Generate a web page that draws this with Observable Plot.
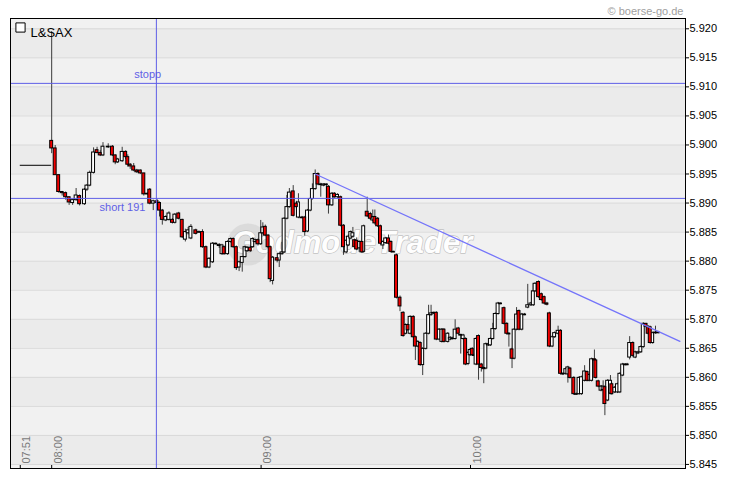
<!DOCTYPE html>
<html><head><meta charset="utf-8">
<script src="https://cdn.jsdelivr.net/npm/d3@7"></script>
<script src="https://cdn.jsdelivr.net/npm/@observablehq/plot@0.6"></script>
<style>
html,body{margin:0;padding:0;background:#fff;}
#chart{width:730px;height:481px;overflow:hidden;}
</style></head><body><div id="chart"></div>
<script>
// ---- data ----
const title = "L&SAX";
const copyright = "© boerse-go.de";
const watermark = "GodmodeTrader";
const xTickLabels = ["07:51", "08:00", "09:00", "10:00"];
const xTickMinutes = [-9, 0, 60, 120];            // minutes after 08:00
const yTicks = [5.845, 5.850, 5.855, 5.860, 5.865, 5.870, 5.875, 5.880, 5.885, 5.890, 5.895, 5.900, 5.905, 5.910, 5.915, 5.920];
const prevCloseMinutes = [-9, 0];
const prevClosePrice = [5.8965];
const levelNames = ["stopp", "short 191"];
const levelPrices = [5.9106, 5.8908];
const levelLabelMinutes = [27.5, 20.3];
const stopMinute = [30];
const trendMinutes = [75.5, 180];
const trendPrices = [5.8950, 5.8662];

const minutes = [0,1.0,2.0,3.0,4.0,5.0,6.0,7.0,8.0,9.4,
10.1,10.9,12.0,13.0,13.9,14.7,16.2,17.4,18.2,18.9,
20.2,21.2,21.8,22.5,23.5,24.4,25.4,26.4,27.4,28.1,
29.1,30.2,30.9,31.7,32.7,33.6,34.6,35.3,36.4,37.4,
38.3,39.1,39.9,41.3,42.2,43.2,44.2,45.1,46.1,47.0,
48.0,48.8,49.4,50.4,51.3,52.0,52.9,53.7,54.6,55.4,
56.0,56.9,57.6,58.3,59.1,59.9,60.5,61.2,62.0,62.6,
63.3,64.6,65.2,66.0,66.6,67.4,68.1,69.2,70.1,70.7,
71.7,72.5,73.3,74.1,74.7,75.5,76.3,77.1,77.9,78.7,
79.3,80.3,81.0,81.9,82.8,83.6,84.4,85.0,85.7,86.3,
86.8,87.4,88.1,88.9,89.4,90.4,91.3,92.0,92.6,93.4,
94.2,94.9,95.7,96.5,97.2,97.9,98.8,99.8,100.7,101.4,
102.1,102.7,103.6,104.2,104.9,105.6,106.3,107.2,108.0,108.7,
109.4,110.2,111.0,111.8,112.4,113.5,114.2,114.9,115.6,116.5,
117.2,117.9,118.6,119.3,119.9,120.5,121.1,121.6,122.3,123.1,
123.8,124.4,125.1,125.7,126.4,127.1,127.9,128.6,129.6,130.4,
131.0,131.9,132.5,133.2,133.9,134.7,135.5,136.4,137.3,138.0,
138.5,139.5,140.3,141.1,141.9,142.6,143.4,144.1,145.1,145.8,
146.5,147.3,147.9,148.5,149.6,150.3,151.1,151.8,152.7,153.4,
154.0,154.7,155.5,155.9,156.6,157.4,158.0,158.5,159.3,160.1,
160.5,161.3,162.1,162.8,163.6,164.3,164.9,165.6,166.5,167.2,
168.0,168.8,169.5,170.3,170.9,171.5,172.2,173.0,173.8];

const open = [5.9007,5.8994,5.8948,5.8919,5.8917,5.8910,5.8900,5.8905,5.8912,5.8898,
5.8923,5.8930,5.8952,5.8991,5.8986,5.8982,5.8996,5.8997,5.8982,5.8970,
5.8972,5.8988,5.8979,5.8966,5.8963,5.8956,5.8956,5.8951,5.8915,5.8923,
5.8899,5.8903,5.8900,5.8887,5.8870,5.8871,5.8871,5.8866,5.8882,5.8871,
5.8837,5.8848,5.8839,5.8853,5.8850,5.8850,5.8824,5.8789,5.8798,5.8830,
5.8826,5.8812,5.8824,5.8812,5.8833,5.8838,5.8824,5.8789,5.8797,5.8807,
5.8817,5.8823,5.8824,5.8833,5.8836,5.8829,5.8848,5.8859,5.8844,5.8824,
5.8766,5.8805,5.8801,5.8812,5.8815,5.8873,5.8893,5.8920,5.8899,5.8875,
5.8875,5.8875,5.8851,5.8887,5.8907,5.8924,5.8950,5.8932,5.8930,5.8932,
5.8928,5.8896,5.8916,5.8910,5.8910,5.8861,5.8815,5.8827,5.8839,5.8842,
5.8836,5.8835,5.8822,5.8833,5.8816,5.8885,5.8881,5.8870,5.8876,5.8873,
5.8860,5.8827,5.8831,5.8839,5.8833,5.8816,5.8810,5.8737,5.8711,5.8675,
5.8690,5.8675,5.8704,5.8669,5.8653,5.8659,5.8621,5.8649,5.8675,5.8707,
5.8710,5.8711,5.8665,5.8661,5.8682,5.8661,5.8665,5.8666,5.8666,5.8684,
5.8673,5.8666,5.8666,5.8623,5.8638,5.8649,5.8638,5.8622,5.8671,5.8622,
5.8616,5.8615,5.8655,5.8655,5.8666,5.8683,5.8709,5.8727,5.8719,5.8692,
5.8675,5.8648,5.8632,5.8682,5.8714,5.8682,5.8708,5.8720,5.8724,5.8724,
5.8748,5.8764,5.8743,5.8738,5.8727,5.8710,5.8653,5.8669,5.8675,5.8680,
5.8606,5.8606,5.8605,5.8615,5.8599,5.8571,5.8571,5.8571,5.8594,5.8609,
5.8594,5.8594,5.8631,5.8629,5.8593,5.8577,5.8578,5.8583,5.8560,5.8572,
5.8588,5.8574,5.8574,5.8574,5.8603,5.8622,5.8621,5.8634,5.8659,5.8634,
5.8641,5.8643,5.8652,5.8692,5.8687,5.8686,5.8659,5.8676,5.8677];

const high = [5.9195,5.8999,5.8948,5.8920,5.8919,5.8910,5.8906,5.8925,5.8914,5.8925,
5.8932,5.8955,5.8995,5.8996,5.8990,5.9004,5.9002,5.8999,5.8983,5.8977,
5.8996,5.8990,5.8983,5.8968,5.8968,5.8958,5.8957,5.8951,5.8917,5.8925,
5.8905,5.8906,5.8902,5.8889,5.8878,5.8885,5.8873,5.8882,5.8884,5.8872,
5.8855,5.8858,5.8863,5.8855,5.8852,5.8854,5.8826,5.8806,5.8832,5.8831,
5.8830,5.8829,5.8826,5.8835,5.8840,5.8840,5.8826,5.8800,5.8808,5.8826,
5.8825,5.8826,5.8840,5.8838,5.8838,5.8870,5.8866,5.8862,5.8846,5.8826,
5.8808,5.8806,5.8814,5.8832,5.8875,5.8913,5.8925,5.8930,5.8903,5.8916,
5.8877,5.8877,5.8889,5.8909,5.8933,5.8957,5.8952,5.8934,5.8933,5.8933,
5.8930,5.8918,5.8918,5.8916,5.8912,5.8863,5.8837,5.8845,5.8852,5.8858,
5.8838,5.8840,5.8835,5.8835,5.8862,5.8910,5.8884,5.8888,5.8888,5.8875,
5.8862,5.8835,5.8841,5.8845,5.8835,5.8817,5.8812,5.8740,5.8713,5.8692,
5.8692,5.8706,5.8706,5.8671,5.8663,5.8661,5.8651,5.8677,5.8724,5.8724,
5.8712,5.8713,5.8684,5.8684,5.8684,5.8677,5.8670,5.8669,5.8699,5.8686,
5.8674,5.8674,5.8668,5.8644,5.8649,5.8651,5.8640,5.8668,5.8673,5.8624,
5.8618,5.8659,5.8659,5.8668,5.8693,5.8711,5.8729,5.8728,5.8721,5.8694,
5.8677,5.8650,5.8684,5.8720,5.8716,5.8710,5.8710,5.8760,5.8729,5.8760,
5.8763,5.8766,5.8745,5.8740,5.8729,5.8712,5.8671,5.8678,5.8688,5.8682,
5.8608,5.8616,5.8619,5.8617,5.8601,5.8573,5.8601,5.8602,5.8620,5.8611,
5.8606,5.8633,5.8647,5.8631,5.8595,5.8586,5.8594,5.8585,5.8596,5.8603,
5.8590,5.8584,5.8590,5.8608,5.8624,5.8623,5.8624,5.8670,5.8661,5.8645,
5.8645,5.8654,5.8694,5.8693,5.8689,5.8688,5.8678,5.8688,5.8679];

const low = [5.8985,5.8948,5.8917,5.8912,5.8905,5.8896,5.8896,5.8903,5.8895,5.8896,
5.8920,5.8928,5.8950,5.8985,5.8980,5.8980,5.8994,5.8980,5.8966,5.8968,
5.8970,5.8975,5.8962,5.8958,5.8954,5.8951,5.8949,5.8912,5.8914,5.8897,
5.8887,5.8896,5.8876,5.8862,5.8868,5.8869,5.8864,5.8864,5.8871,5.8839,
5.8833,5.8845,5.8837,5.8845,5.8848,5.8822,5.8787,5.8787,5.8796,5.8828,
5.8822,5.8810,5.8810,5.8810,5.8831,5.8822,5.8784,5.8782,5.8781,5.8805,
5.8815,5.8815,5.8822,5.8831,5.8826,5.8827,5.8846,5.8842,5.8822,5.8763,
5.8759,5.8797,5.8789,5.8810,5.8813,5.8871,5.8891,5.8876,5.8890,5.8873,
5.8873,5.8843,5.8849,5.8885,5.8905,5.8922,5.8930,5.8910,5.8928,5.8905,
5.8881,5.8894,5.8908,5.8908,5.8859,5.8810,5.8813,5.8825,5.8837,5.8840,
5.8820,5.8818,5.8815,5.8813,5.8814,5.8875,5.8870,5.8868,5.8862,5.8858,
5.8828,5.8820,5.8829,5.8828,5.8814,5.8815,5.8735,5.8713,5.8669,5.8673,
5.8679,5.8673,5.8667,5.8629,5.8651,5.8619,5.8603,5.8647,5.8673,5.8705,
5.8708,5.8663,5.8663,5.8659,5.8659,5.8659,5.8663,5.8664,5.8664,5.8673,
5.8640,5.8664,5.8620,5.8620,5.8636,5.8636,5.8636,5.8620,5.8595,5.8609,
5.8589,5.8613,5.8653,5.8653,5.8664,5.8681,5.8707,5.8725,5.8690,5.8673,
5.8652,5.8615,5.8630,5.8680,5.8680,5.8680,5.8706,5.8718,5.8722,5.8722,
5.8746,5.8736,5.8731,5.8725,5.8723,5.8651,5.8651,5.8667,5.8673,5.8604,
5.8603,5.8604,5.8590,5.8597,5.8569,5.8569,5.8569,5.8569,5.8592,5.8592,
5.8592,5.8592,5.8627,5.8597,5.8582,5.8575,5.8576,5.8534,5.8558,5.8570,
5.8569,5.8572,5.8572,5.8572,5.8601,5.8620,5.8620,5.8630,5.8635,5.8632,
5.8639,5.8641,5.8650,5.8685,5.8673,5.8657,5.8657,5.8674,5.8675];

const close = [5.8994,5.8948,5.8919,5.8917,5.8910,5.8901,5.8905,5.8913,5.8898,5.8923,
5.8930,5.8952,5.8987,5.8986,5.8982,5.8997,5.8997,5.8982,5.8970,5.8975,
5.8988,5.8979,5.8966,5.8963,5.8956,5.8953,5.8951,5.8915,5.8916,5.8899,
5.8903,5.8900,5.8887,5.8871,5.8876,5.8882,5.8866,5.8880,5.8873,5.8841,
5.8850,5.8853,5.8859,5.8847,5.8850,5.8824,5.8789,5.8804,5.8830,5.8830,
5.8828,5.8827,5.8812,5.8833,5.8838,5.8824,5.8788,5.8798,5.8807,5.8824,
5.8823,5.8817,5.8838,5.8836,5.8829,5.8848,5.8858,5.8844,5.8824,5.8769,
5.8806,5.8801,5.8812,5.8815,5.8873,5.8893,5.8918,5.8878,5.8893,5.8901,
5.8875,5.8850,5.8887,5.8907,5.8924,5.8950,5.8932,5.8932,5.8932,5.8932,
5.8896,5.8916,5.8910,5.8914,5.8861,5.8824,5.8835,5.8842,5.8850,5.8848,
5.8824,5.8820,5.8833,5.8815,5.8860,5.8877,5.8873,5.8876,5.8865,5.8860,
5.8830,5.8833,5.8839,5.8830,5.8816,5.8816,5.8737,5.8722,5.8671,5.8690,
5.8681,5.8704,5.8669,5.8653,5.8661,5.8621,5.8649,5.8675,5.8707,5.8710,
5.8711,5.8665,5.8682,5.8682,5.8661,5.8675,5.8668,5.8667,5.8682,5.8675,
5.8672,5.8672,5.8622,5.8642,5.8647,5.8638,5.8638,5.8666,5.8622,5.8616,
5.8614,5.8657,5.8657,5.8666,5.8683,5.8709,5.8727,5.8727,5.8692,5.8675,
5.8675,5.8632,5.8682,5.8708,5.8682,5.8708,5.8708,5.8724,5.8727,5.8748,
5.8761,5.8738,5.8733,5.8727,5.8725,5.8653,5.8669,5.8676,5.8680,5.8606,
5.8605,5.8614,5.8617,5.8599,5.8571,5.8571,5.8599,5.8600,5.8610,5.8594,
5.8604,5.8631,5.8629,5.8599,5.8584,5.8584,5.8584,5.8554,5.8594,5.8594,
5.8571,5.8582,5.8588,5.8606,5.8622,5.8621,5.8622,5.8659,5.8637,5.8643,
5.8643,5.8652,5.8692,5.8687,5.8675,5.8659,5.8676,5.8677,5.8677];

// ---- build ----
const xDomain = [-11.8, 181.6];
const yDomain = [5.8443, 5.92177];
const n = Math.min(minutes.length, open.length, high.length, low.length, close.length);
const candles = d3.range(n).map(i => ({t: minutes[i], o: open[i], h: high[i], l: low[i], c: close[i]}));
const half = 0.42;
const minBody = 0.00012;
const bodyTop = d => Math.max(d.o, d.c);
const bodyBot = d => (Math.abs(d.o - d.c) < minBody ? Math.max(d.o, d.c) - minBody : Math.min(d.o, d.c));
const redC = candles.filter(d => d.c < d.o - 0.00001);
const whiteC = candles.filter(d => !(d.c < d.o - 0.00001));

const edges = [yDomain[0], ...yTicks, yDomain[1]];
const bands = d3.range(edges.length - 1).map(i => ({y1: edges[i], y2: edges[i + 1], dark: i % 2 === 1}));
const levels = levelNames.map((name, i) => ({name, price: levelPrices[i], t: levelLabelMinutes[i]}));
const trend = trendMinutes.map((t, i) => ({t, p: trendPrices[i]}));
const xTicks = xTickMinutes.map((t, i) => ({t, label: xTickLabels[i]}));

const blue = "#5f5fe6";

const chart = Plot.plot({
  width: 730,
  height: 481,
  marginLeft: 10,
  marginRight: 45,
  marginTop: 18,
  marginBottom: 13,
  style: {background: "#ffffff", fontFamily: "'Liberation Sans', Arial, sans-serif", fontSize: "11px", color: "#000"},
  x: {domain: xDomain, axis: null},
  y: {domain: yDomain, axis: "right", ticks: yTicks, tickFormat: d => d.toFixed(3), tickSize: 3, tickPadding: 1, label: null},
  marks: [
    Plot.rect(bands.filter(b => b.dark), {y1: "y1", y2: "y2", fill: "#ebebeb"}),
    Plot.rect(bands.filter(b => !b.dark), {y1: "y1", y2: "y2", fill: "#f1f1f1"}),
    Plot.ruleY(yTicks, {stroke: "#d8d8d8", strokeWidth: 1}),
    // watermark
    Plot.dot([0], {frameAnchor: "middle", dx: -100, dy: 1, r: 21, fill: "#d0d0d0", fillOpacity: 0.6}),
    Plot.text([watermark], {frameAnchor: "middle", dx: 4, dy: 0, text: d => d, fontSize: 31, fontWeight: "bold", fontStyle: "italic",
      fontFamily: "'Liberation Sans Narrow', 'Liberation Sans', Arial, sans-serif", fill: "#ffffff", stroke: "#c0c0c0", strokeWidth: 1.3, opacity: 0.95}),
    // previous close
    Plot.ruleY(prevClosePrice, {x1: prevCloseMinutes[0], x2: prevCloseMinutes[1], stroke: "#000", strokeWidth: 1}),
    // candles
    Plot.ruleX(candles, {x: "t", y1: "l", y2: "h", stroke: "#3a3a3a", strokeWidth: 1}),
    Plot.rect(whiteC, {x1: d => d.t - half, x2: d => d.t + half, y1: bodyBot, y2: bodyTop, fill: "#ffffff", stroke: "#000", strokeWidth: 1}),
    Plot.rect(redC, {x1: d => d.t - half, x2: d => d.t + half, y1: bodyBot, y2: bodyTop, fill: "#f20000", stroke: "#000", strokeWidth: 1}),
    // blue annotations
    Plot.ruleY(levelPrices, {stroke: blue, strokeWidth: 1}),
    Plot.ruleX(stopMinute, {stroke: blue, strokeWidth: 1}),
    Plot.line(trend, {x: "t", y: "p", stroke: "#7474fa", strokeWidth: 1.3}),
    Plot.text(levels.slice(0, 1), {x: "t", y: "price", text: "name", fill: blue, fontSize: 11, dy: -9}),
    Plot.text(levels.slice(1), {x: "t", y: "price", text: "name", fill: blue, fontSize: 11, dy: 9}),
    // time axis (inside frame)
    Plot.ruleX(xTicks, {x: "t", insetTop: 447, stroke: "#000"}),
    Plot.text(xTicks, {x: "t", text: "label", frameAnchor: "bottom", rotate: -90, textAnchor: "start", lineAnchor: "middle",
      dx: 6.5, dy: -5, fill: "#7a7a7a", fontSize: 11}),
    // title and credit
    Plot.dot([0], {frameAnchor: "top-left", dx: 10, dy: 9, symbol: "square", r: 5.2, fill: "#ffffff", stroke: "#000", strokeWidth: 1}),
    Plot.text([title], {frameAnchor: "top-left", dx: 20, dy: 9, text: d => d, textAnchor: "start", fontSize: 13, fill: "#000"}),
    Plot.text([copyright], {frameAnchor: "top-right", dx: -2, dy: -11, text: d => d, textAnchor: "end", fontSize: 11, fill: "#a0a0a0"}),
    Plot.frame({stroke: "#000", strokeWidth: 1})
  ]
});
document.getElementById("chart").appendChild(chart);
</script>
</body></html>
